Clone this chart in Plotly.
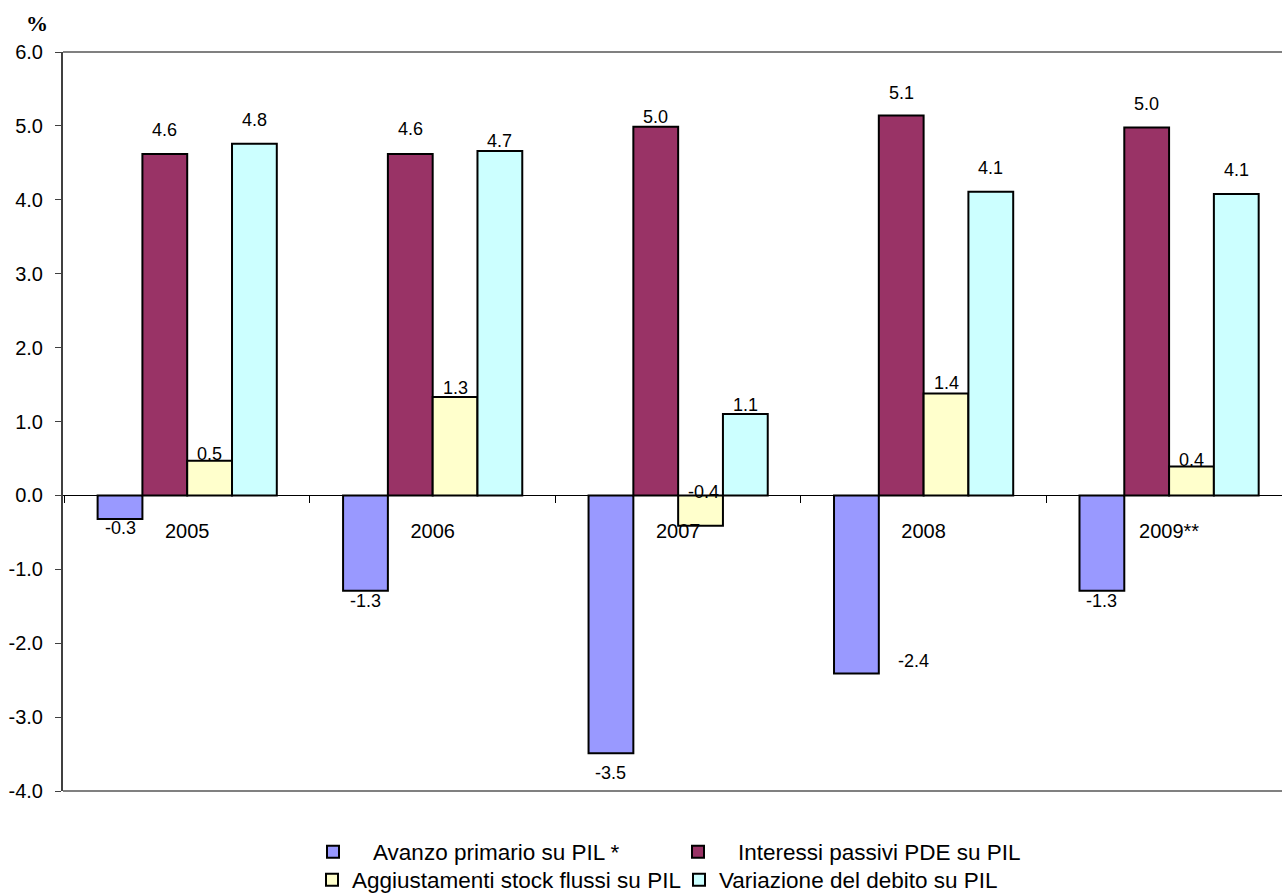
import plotly.graph_objects as go

# Anni e serie (% del PIL)
anni = ["2005", "2006", "2007", "2008", "2009**"]
avanzo_primario = [-0.32, -1.29, -3.49, -2.41, -1.29]
interessi_passivi = [4.62, 4.62, 4.99, 5.14, 4.98]
aggiustamenti_sf = [0.47, 1.33, -0.41, 1.38, 0.39]
variazione_debito = [4.76, 4.66, 1.10, 4.11, 4.08]

nomi = [
    "Avanzo primario su PIL *",
    "Interessi passivi PDE su PIL",
    "Aggiustamenti stock flussi su PIL",
    "Variazione del debito su PIL",
]
serie = [avanzo_primario, interessi_passivi, aggiustamenti_sf, variazione_debito]
colori = ["#9999FF", "#993366", "#FFFFCC", "#CCFFFF"]
legende = ["legend", "legend", "legend2", "legend2"]

# tacche dell'asse dei valori
y_ticks = [-4, -3, -2, -1, 0, 1, 2, 3, 4, 5, 6]

# spostamenti (px) delle etichette di valore rispetto all'estremo della barra
shift_y = [
    [-9, -10, -20, 13, -10],
    [24, 25, 10, 23, 23],
    [7, 9, 34, 10, 7],
    [24, 10, 9, 24, 24],
]
shift_x = [
    [0, 0, 0, 57, 0],
    [0, 0, 0, 0, 0],
    [0, 0, 3, 0, 0],
    [0, 0, 0, 0, 0],
]

FONT = "Liberation Sans, Arial, sans-serif"
BARGAP = 0.27
n_serie = len(serie)
w_barra = (1 - BARGAP) / n_serie

fig = go.Figure()
for nome, valori, colore, leg in zip(nomi, serie, colori, legende):
    fig.add_trace(go.Bar(
        x=anni, y=valori, name=nome, legend=leg,
        marker=dict(color=colore, line=dict(color="black", width=2)),
        hoverinfo="skip",
    ))

annotazioni = []
for k, valori in enumerate(serie):
    for i, v in enumerate(valori):
        annotazioni.append(dict(
            x=i + (k - (n_serie - 1) / 2) * w_barra, y=v,
            xref="x", yref="y",
            text=f"{v:.1f}", showarrow=False,
            xanchor="center", yanchor="middle",
            xshift=shift_x[k][i], yshift=shift_y[k][i],
            font=dict(family=FONT, size=18, color="black"),
        ))

annotazioni.append(dict(
    x=-0.0213, y=1.0386, xref="paper", yref="paper",
    text="<b>%</b>", showarrow=False, xanchor="center", yanchor="middle",
    font=dict(family="Liberation Serif, Times New Roman, serif", size=22, color="black"),
))

legenda_base = dict(
    orientation="h", xref="container", yref="container",
    xanchor="left", yanchor="middle",
    font=dict(family=FONT, size=22.5, color="black"),
    traceorder="normal", bgcolor="rgba(0,0,0,0)",
    entrywidthmode="pixels",
)

fig.update_layout(
    width=1282, height=896,
    margin=dict(l=63, r=0, t=52, b=105, autoexpand=False),
    paper_bgcolor="white", plot_bgcolor="white",
    barmode="group", bargap=BARGAP, bargroupgap=0,
    font=dict(family=FONT, color="black"),
    showlegend=True,
    legend=dict(legenda_base, x=293 / 1282, y=1 - 852 / 896,
                itemwidth=70, entrywidth=280),
    legend2=dict(legenda_base, x=312 / 1282, y=1 - 880 / 896,
                 itemwidth=30, entrywidth=322),
    annotations=annotazioni,
    shapes=[
        dict(type="line", xref="paper", yref="paper", x0=0, x1=1, y0=1, y1=1,
             line=dict(color="#808080", width=2)),
        dict(type="line", xref="paper", yref="paper", x0=0, x1=1, y0=0, y1=0,
             line=dict(color="#808080", width=2)),
    ],
    xaxis=dict(
        type="category", range=[-0.506, 4.46],
        anchor="free", position=0.4,
        showline=True, linecolor="black", linewidth=1,
        ticks="outside", ticklen=7, tickcolor="black", tickwidth=1,
        tickson="boundaries", ticklabelstandoff=18,
        showgrid=False, zeroline=False,
        tickfont=dict(family=FONT, size=20, color="black"),
    ),
    yaxis=dict(
        range=[-4, 6], tickmode="array", tickvals=y_ticks,
        ticktext=[f"{t:.1f}" for t in y_ticks],
        showline=True, linecolor="#404040", linewidth=2,
        ticks="outside", ticklen=6, tickcolor="#404040", tickwidth=1,
        ticklabelstandoff=8,
        showgrid=False, zeroline=False,
        tickfont=dict(family=FONT, size=20, color="black"),
    ),
)

fig.write_html("out.html")
